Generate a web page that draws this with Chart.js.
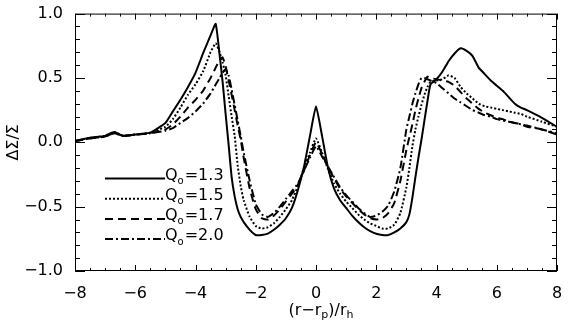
<!DOCTYPE html>
<html>
<head>
<meta charset="utf-8">
<script src="https://cdn.jsdelivr.net/npm/chart.js@4.4.0/dist/chart.umd.min.js"></script>
<style>
  html, body { margin: 0; padding: 0; background: #fff; }
  #wrap { width: 576px; height: 324px; }
</style>
</head>
<body>
<div id="wrap"><canvas id="canvas" width="576" height="324"></canvas></div>
<script>
// (r - r_p) / r_h sample positions, shared by all four runs
var rOffset = [
  -8, -7.5, -7, -6.7, -6.4, -6, -5.5, -5, -4.75, -4.5,
  -4.25, -4, -3.75, -3.5, -3.33, -3.2, -3.1, -3.0, -2.9, -2.8,
  -2.7, -2.6, -2.5, -2.4, -2.2, -2.0, -1.8, -1.6, -1.4, -1.2,
  -1.0, -0.8, -0.6, -0.4, -0.2, 0, 0.2, 0.4, 0.6, 0.8,
  1.0, 1.2, 1.4, 1.6, 1.8, 2.0, 2.2, 2.4, 2.6, 2.8,
  3.0, 3.1, 3.2, 3.3, 3.4, 3.5, 3.6, 3.7, 3.8, 4.0,
  4.2, 4.4, 4.6, 4.8, 5.0, 5.2, 5.4, 5.6, 5.8, 6.0,
  6.2, 6.4, 6.6, 6.8, 7.0, 7.5, 8.0
];

// delta Sigma / Sigma for each Q_o
var q13 = [
  0.01, 0.035, 0.05, 0.08, 0.05, 0.06, 0.075, 0.15, 0.24, 0.33,
  0.43, 0.54, 0.69, 0.83, 0.92, 0.68, 0.47, 0.22, -0.02, -0.27,
  -0.42, -0.52, -0.58, -0.62, -0.68, -0.72, -0.72, -0.71, -0.68, -0.64,
  -0.59, -0.51, -0.37, -0.19, 0.05, 0.28, 0.05, -0.20, -0.36, -0.45,
  -0.51, -0.57, -0.62, -0.66, -0.69, -0.71, -0.72, -0.72, -0.70, -0.67,
  -0.62, -0.56, -0.43, -0.27, -0.12, 0.02, 0.17, 0.32, 0.45, 0.49,
  0.55, 0.63, 0.69, 0.73, 0.71, 0.67, 0.58, 0.53, 0.48, 0.44,
  0.40, 0.35, 0.30, 0.27, 0.25, 0.19, 0.12
];
var q15 = [
  0.01, 0.035, 0.05, 0.08, 0.05, 0.06, 0.075, 0.12, 0.18, 0.27,
  0.37, 0.45, 0.55, 0.70, 0.77, 0.70, 0.62, 0.52, 0.36, 0.20,
  0.05, -0.18, -0.34, -0.45, -0.58, -0.65, -0.67, -0.66, -0.63, -0.58,
  -0.52, -0.45, -0.34, -0.20, -0.08, 0.03, -0.08, -0.21, -0.32, -0.40,
  -0.46, -0.51, -0.56, -0.60, -0.63, -0.65, -0.67, -0.67, -0.64, -0.55,
  -0.35, -0.20, -0.03, 0.10, 0.20, 0.29, 0.37, 0.43, 0.47, 0.48,
  0.49, 0.52, 0.50, 0.43, 0.38, 0.34, 0.30, 0.28, 0.27, 0.26,
  0.25, 0.24, 0.23, 0.22, 0.20, 0.16, 0.12
];
var q17 = [
  0.01, 0.03, 0.045, 0.07, 0.05, 0.06, 0.07, 0.10, 0.14, 0.20,
  0.27, 0.33, 0.40, 0.50, 0.58, 0.64, 0.66, 0.59, 0.48, 0.37,
  0.25, 0.13, 0.02, -0.12, -0.36, -0.52, -0.59, -0.60, -0.57, -0.52,
  -0.46, -0.40, -0.33, -0.22, -0.10, 0.00, -0.09, -0.19, -0.28, -0.36,
  -0.42, -0.47, -0.52, -0.56, -0.59, -0.60, -0.59, -0.55, -0.47, -0.30,
  -0.06, 0.04, 0.14, 0.25, 0.34, 0.42, 0.47, 0.51, 0.50, 0.49,
  0.48, 0.47, 0.44, 0.39, 0.34, 0.30, 0.26, 0.23, 0.21, 0.19,
  0.18, 0.16, 0.15, 0.14, 0.12, 0.10, 0.06
];
var q20 = [
  0.01, 0.03, 0.045, 0.07, 0.05, 0.06, 0.07, 0.09, 0.11, 0.15,
  0.19, 0.24, 0.30, 0.38, 0.45, 0.50, 0.54, 0.57, 0.52, 0.41,
  0.29, 0.17, 0.05, -0.08, -0.30, -0.48, -0.56, -0.58, -0.55, -0.50,
  -0.44, -0.38, -0.32, -0.22, -0.12, -0.03, -0.11, -0.19, -0.27, -0.35,
  -0.41, -0.46, -0.51, -0.55, -0.58, -0.57, -0.54, -0.49, -0.38, -0.20,
  0.10, 0.20, 0.30, 0.38, 0.45, 0.50, 0.50, 0.49, 0.48, 0.46,
  0.42, 0.38, 0.34, 0.31, 0.28, 0.25, 0.23, 0.21, 0.20, 0.18,
  0.17, 0.16, 0.15, 0.14, 0.13, 0.10, 0.07
];

var qValues = ['1.3', '1.5', '1.7', '2.0'];
var xTicks = [-8, -6, -4, -2, 0, 2, 4, 6, 8];
var yTicks = [-1.0, -0.5, 0.0, 0.5, 1.0];

var FONT = '"DejaVu Sans", sans-serif';

function pts(ys) {
  return rOffset.map(function (x, i) { return { x: x, y: ys[i] }; });
}
function minus(s) {
  return String(s).replace('-', '\u2212');
}

// box, inward major + minor ticks on all four sides
var idlAxes = {
  id: 'idlAxes',
  afterDatasetsDraw: function (chart) {
    var a = chart.chartArea, xs = chart.scales.x, ys = chart.scales.y, ctx = chart.ctx;
    ctx.save();
    ctx.strokeStyle = '#000';
    ctx.lineWidth = 1;
    ctx.setLineDash([]);
    ctx.strokeRect(a.left + 0.5, a.top + 0.5, a.right - a.left - 1, a.bottom - a.top - 1);
    ctx.beginPath();
    for (var i = -16; i <= 16; i++) {
      var len = (i % 4 === 0) ? 6 : 3;
      var px = Math.round(xs.getPixelForValue(i / 2)) + 0.5;
      ctx.moveTo(px, a.bottom); ctx.lineTo(px, a.bottom - len);
      ctx.moveTo(px, a.top); ctx.lineTo(px, a.top + len);
    }
    for (var j = -10; j <= 10; j++) {
      var l2 = (j % 5 === 0) ? 10 : 5;
      var py = Math.round(ys.getPixelForValue(j / 10)) + 0.5;
      ctx.moveTo(a.left, py); ctx.lineTo(a.left + l2, py);
      ctx.moveTo(a.right, py); ctx.lineTo(a.right - l2, py);
    }
    ctx.stroke();
    ctx.restore();
  }
};

// x title with subscripts, and the line legend inside the plot
var idlText = {
  id: 'idlText',
  afterDraw: function (chart) {
    var ctx = chart.ctx, a = chart.chartArea;
    ctx.save();
    ctx.fillStyle = '#000';
    ctx.textBaseline = 'middle';

    var parts = [['(r\u2212r', false], ['p', true], [')/r', false], ['h', true]];
    var w = 0;
    parts.forEach(function (p) {
      ctx.font = (p[1] ? '11px ' : '16px ') + FONT;
      w += ctx.measureText(p[0]).width;
    });
    var x = (a.left + a.right) / 2 - w / 2 + 5;
    parts.forEach(function (p) {
      ctx.font = (p[1] ? '11px ' : '16px ') + FONT;
      ctx.fillText(p[0], x, p[1] ? 315 : 311);
      x += ctx.measureText(p[0]).width;
    });

    chart.data.datasets.forEach(function (ds, i) {
      var y = 178.5 + i * 20.2;
      ctx.strokeStyle = '#000';
      ctx.lineWidth = ds.borderWidth;
      ctx.setLineDash(ds.borderDash || []);
      ctx.beginPath();
      ctx.moveTo(105, y);
      ctx.lineTo(165, y);
      ctx.stroke();
      ctx.setLineDash([]);
      var tx = 165;
      ctx.font = '16px ' + FONT;
      ctx.fillText('Q', tx, y - 3);
      tx += ctx.measureText('Q').width;
      ctx.font = '10px ' + FONT;
      ctx.fillText('o', tx, y + 3);
      tx += ctx.measureText('o').width + 1;
      ctx.font = '16px ' + FONT;
      ctx.fillText('=' + qValues[i], tx, y - 3);
    });
    ctx.restore();
  }
};

var series = [
  { data: q13, dash: [] },
  { data: q15, dash: [2, 2] },
  { data: q17, dash: [8, 5] },
  { data: q20, dash: [8, 3, 2, 3] }
];

var ctx = document.getElementById('canvas').getContext('2d');
window.myChart = new Chart(ctx, {
  type: 'scatter',
  data: {
    datasets: series.map(function (s, i) {
      return {
        label: 'Qo=' + qValues[i],
        data: pts(s.data),
        showLine: true,
        borderColor: '#000',
        borderWidth: 2,
        borderDash: s.dash,
        pointRadius: 0,
        tension: 0.15,
        fill: false
      };
    })
  },
  options: {
    responsive: false,
    animation: false,
    devicePixelRatio: 1,
    layout: { padding: { top: 6, right: 19, left: 0, bottom: 0 } },
    plugins: { legend: { display: false }, tooltip: { enabled: false } },
    scales: {
      x: {
        type: 'linear',
        min: -8,
        max: 8,
        grid: { display: false },
        border: { display: false },
        afterBuildTicks: function (s) { s.ticks = xTicks.map(function (v) { return { value: v }; }); },
        afterFit: function (s) { s.height = 53; },
        ticks: {
          color: '#000',
          padding: 5,
          maxRotation: 0,
          font: { family: FONT, size: 16 },
          callback: function (v) { return minus(v); }
        }
      },
      y: {
        type: 'linear',
        min: -1,
        max: 1,
        grid: { display: false },
        border: { display: false },
        afterBuildTicks: function (s) { s.ticks = yTicks.map(function (v) { return { value: v }; }); },
        afterFit: function (s) { s.width = 75; },
        title: {
          display: true,
          text: '\u0394\u03a3/\u03a3',
          color: '#000',
          font: { family: FONT, size: 16 },
          padding: { top: 4, bottom: 0 }
        },
        ticks: {
          color: '#000',
          padding: 4,
          font: { family: FONT, size: 16 },
          callback: function (v) { return minus(v.toFixed(1)); }
        }
      }
    }
  },
  plugins: [idlAxes, idlText]
});
</script>
</body>
</html>
